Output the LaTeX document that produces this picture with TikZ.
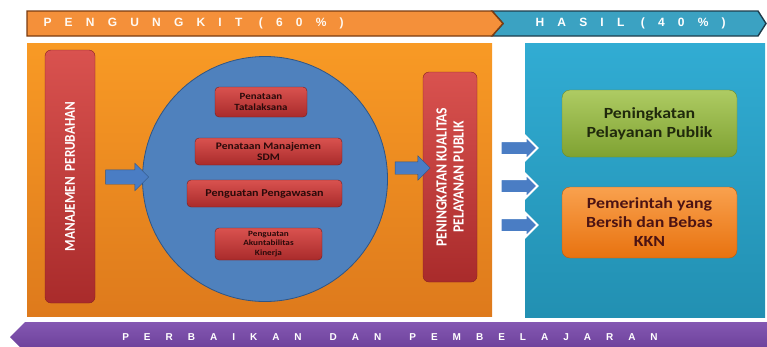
\documentclass[tikz,border=0pt]{standalone}
\usepackage{fontspec}
\newfontfamily\cardfont{Carlito}[FakeStretch=1.15]
\newfontfamily\barfont{Carlito}[FakeStretch=0.88]
\newfontfamily\bannerfont{Liberation Sans}[LetterSpace=110]
\newfontfamily\footfont{Liberation Sans}[LetterSpace=150]
\definecolor{Orgtop}{HTML}{F89A25}
\definecolor{Orgbot}{HTML}{DE7A1C}
\definecolor{Aquatop}{HTML}{31ACD3}
\definecolor{Aquabot}{HTML}{2290B2}
\definecolor{Bannerorg}{HTML}{F4903A}
\definecolor{Bannerorgline}{HTML}{7A3C12}
\definecolor{Banneraqua}{HTML}{3BA2C2}
\definecolor{Banneraqualine}{HTML}{1E3D4C}
\definecolor{Purtop}{HTML}{8458B2}
\definecolor{Purbot}{HTML}{6A3E98}
\definecolor{Redlight}{HTML}{D9524F}
\definecolor{Reddark}{HTML}{A92B2B}
\definecolor{Circfill}{HTML}{4F81BD}
\definecolor{Circline}{HTML}{2F5585}
\definecolor{Arrowcol}{HTML}{4A7DC4}
\definecolor{Greentop}{HTML}{AECB63}
\definecolor{Greenbot}{HTML}{7FA232}
\definecolor{Cardorgtop}{HTML}{F9A14E}
\definecolor{Cardorgbot}{HTML}{E8720F}
\definecolor{Cardtext}{HTML}{2A0A0A}
\usetikzlibrary{calc, shapes.arrows, positioning}
\tikzset{
    barnode/.style={rotate=90, rounded corners=6pt, top color=Redlight, bottom color=Reddark,
        draw=Reddark!80!black, thin, text=white, align=center, font=\barfont\bfseries},
    redcard/.style={rounded corners=4pt, top color=Redlight, bottom color=Reddark,
        draw=Reddark!70!black, thin, text=Cardtext, align=center, inner sep=1pt},
    bigcard/.style={rounded corners=8pt, minimum width=175pt, align=center,
        font=\cardfont\bfseries\fontsize{15.5}{19}\selectfont},
    bluearrow/.style={single arrow, fill=Arrowcol, draw=Circline, thin,
        inner xsep=0pt, single arrow head indent=0pt},
    glowarrow/.style={bluearrow, draw=white, line width=2pt, inner ysep=6pt,
        minimum height=37pt, single arrow head extend=5pt}
}

\begin{document}
\begin{tikzpicture}[x=1pt, y=-1pt]
    \useasboundingbox (0,0) rectangle (767,346);
    \clip (0,0) rectangle (767,346);

    % Top banner
    \filldraw[fill=Banneraqua, draw=Banneraqualine, line width=1.4pt]
        (492,11) -- (758,11) -- (766,23.5) -- (758,36) -- (492,36) -- (503,23.5) -- cycle;
    \filldraw[fill=Bannerorg, draw=Bannerorgline, line width=1.4pt]
        (27,11) -- (492,11) -- (503,23.5) -- (492,36) -- (27,36) -- cycle;
    \node[anchor=west, text=white!95!orange, font=\bannerfont\bfseries\fontsize{12}{14}\selectfont] (lever) at (40,23.5) {PENGUNGKIT (60\%)};
    \node[anchor=west, text=white, font=\bannerfont\bfseries\fontsize{12}{14}\selectfont] (result) at (532,23.5) {HASIL (40\%)};

    % Panels
    \shade[top color=Orgtop, bottom color=Orgbot] (27,43) rectangle (492,316);
    \shade[top color=Aquatop, bottom color=Aquabot] (525,43) rectangle (765,317);

    % Side bars
    \node[barnode, minimum width=253pt, minimum height=50pt, font=\barfont\bfseries\fontsize{15}{17}\selectfont] (change) at (70,176.5) {MANAJEMEN\ \ PERUBAHAN};
    \node[barnode, minimum width=210pt, minimum height=54pt, font=\barfont\bfseries\fontsize{15.5}{17}\selectfont] (quality) at (450,177) {PENINGKATAN KUALITAS\\PELAYANAN PUBLIK};

    % Core circle and its programmes
    \node[circle, fill=Circfill, draw=Circline, line width=0.8pt, minimum size=245pt] (core) at (265,179) {};
    \node[redcard, minimum width=92pt, minimum height=30pt, font=\cardfont\bfseries\fontsize{9.5}{11}\selectfont] (prog1) at (261,102) {Penataan\\Tatalaksana};
    \node[redcard, minimum width=147pt, minimum height=27pt, font=\cardfont\bfseries\fontsize{10}{11}\selectfont] (prog2) at (268.5,151.5) {Penataan Manajemen\\SDM};
    \node[redcard, minimum width=155pt, minimum height=27pt, font=\cardfont\bfseries\fontsize{10.5}{12}\selectfont] (prog3) at (264.5,193.5) {Penguatan Pengawasan};
    \node[redcard, minimum width=107pt, minimum height=32pt, font=\cardfont\bfseries\fontsize{8}{9.5}\selectfont] (prog4) at (268.5,244) {Penguatan\\Akuntabilitas\\Kinerja};

    % Block arrows
    \node[bluearrow, inner ysep=7pt, minimum height=43pt, single arrow head extend=6.5pt] (inarrow) at (123.5,177) {};
    \node[bluearrow, inner ysep=6pt, minimum height=35pt, single arrow head extend=6pt] (midarrow) at (409.5,168) {};
    \foreach \y [count=\i] in {148,186,225}
        \node[glowarrow] (outarrow\i) at (515.5,\y) {};

    % Results
    \node[bigcard, minimum height=67pt, top color=Greentop, bottom color=Greenbot, draw=Greenbot!85!black, text=Greenbot!25!black] (service) at (649.5,123.5) {Peningkatan\\Pelayanan Publik};
    \node[bigcard, minimum height=71pt, top color=Cardorgtop, bottom color=Cardorgbot, draw=Cardorgbot!80!black, text=Reddark!45!black] (clean) at (649.5,222.5) {Pemerintah yang\\Bersih dan Bebas\\KKN};

    % Bottom banner
    \shade[top color=Purtop, bottom color=Purbot]
        (25,322) -- (767,322) -- (767,352) -- (25,352) -- (10,337) -- cycle;
    \node[text=white, font=\footfont\bfseries\fontsize{10}{12}\selectfont] (learn) at (390,337) {PERBAIKAN\hspace{28pt}DAN\hspace{28pt}PEMBELAJARAN};
\end{tikzpicture}
\end{document}
